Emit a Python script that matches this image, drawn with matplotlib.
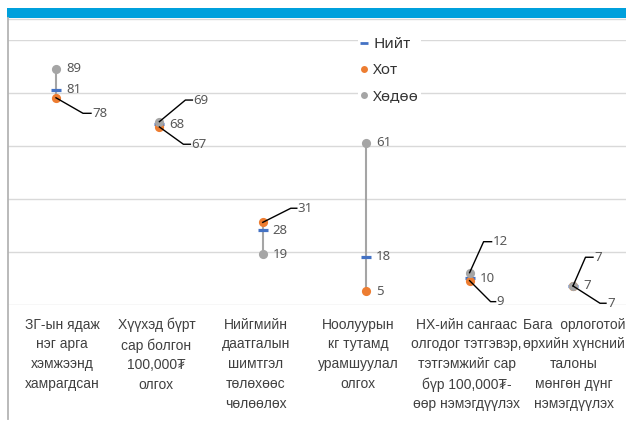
import matplotlib
matplotlib.use('Agg')
import matplotlib.pyplot as plt
import matplotlib.transforms as mtransforms
from matplotlib.lines import Line2D
from matplotlib.patches import Rectangle
from matplotlib import font_manager

# ---------------- data ----------------
categories = [
    "ЗГ-ын ядаж\nнэг арга\nхэмжээнд\nхамрагдсан",
    "Хүүхэд бүрт\nсар болгон\n100,000₮\nолгох",
    "Нийгмийн\nдаатгалын\nшимтгэл\nтөлөхөөс\nчөлөөлөх",
    "Ноолуурын\nкг тутамд\nурамшуулал\nолгох",
    "НХ-ийн сангаас\nолгодог тэтгэвэр,\nтэтгэмжийг сар\nбүр 100,000₮-\nөөр нэмэгдүүлэх",
    "Бага  орлоготой\nөрхийн хүнсний\nталоны\nмөнгөн дүнг\nнэмэгдүүлэх",
]
series_names = ["Нийт", "Хот", "Хөдөө"]
niit = [81, 68, 28, 18, 10, 7]
khot = [78, 67, 31, 5, 9, 7]
khudoo = [89, 69, 19, 61, 12, 7]
y_ticks = [0, 20, 40, 60, 80, 100]

# ---------------- style ----------------
avail = {f.name for f in font_manager.fontManager.ttflist}
def pick(*names):
    return [n for n in names if n in avail] + ['DejaVu Sans']

cat_font = pick('Liberation Sans Narrow', 'Liberation Sans')
num_font = pick('Noto Sans', 'Open Sans')

C_NIIT = '#4472C4'
C_KHOT = '#ED7D31'
C_KHUD = '#A5A5A5'
TXT = '#595959'

W, H = 626, 423
fig = plt.figure(figsize=(W / 100, H / 100), dpi=100)
fig.patch.set_facecolor('white')

# top blue band and frame lines
fig.add_artist(Rectangle((7 / W, 1 - 18 / H), 619 / W, 10 / H,
                         transform=fig.transFigure, color='#00A0DC', lw=0))
fig.add_artist(Line2D([8 / W, 1], [1 - 19 / H, 1 - 19 / H], transform=fig.transFigure,
                      color='#D9D9D9', lw=1))
fig.add_artist(Line2D([8 / W, 8 / W], [1 - 18 / H, 1 - 419 / H], transform=fig.transFigure,
                      color='#B4B4B4', lw=1.3))

ax = fig.add_axes([8 / W, (H - 304.5) / H, 618 / W, 265 / H])
unit = 103.4
xmin = -48 / unit
ax.set_xlim(xmin, xmin + 618 / unit)
ax.set_ylim(0, 100)
for s in ax.spines.values():
    s.set_visible(False)
ax.set_yticks(y_ticks)
ax.set_yticklabels([])
ax.yaxis.grid(True, color='#D9D9D9', lw=1)
ax.set_axisbelow(True)
ax.tick_params(length=0)
x = list(range(len(categories)))
ax.set_xticks(x)
ax.set_xticklabels(categories, fontsize=10, linespacing=1.52, color='#404040',
                   family=cat_font)
ax.tick_params(axis='x', pad=9.5)
# small horizontal nudges of the category texts (pixels)
label_nudge = [6, -3, -7, -8, -3, 1]
for lbl, dx in zip(ax.get_xticklabels(), label_nudge):
    lbl.set_transform(lbl.get_transform() +
                      mtransforms.ScaledTranslation(dx / 100, 0, fig.dpi_scale_trans))

# high-low lines
for i in x:
    vals = [niit[i], khot[i], khudoo[i]]
    ax.plot([i, i], [min(vals), max(vals)], color=C_KHUD, lw=1.5, zorder=2,
            solid_capstyle='butt')

ax.plot(x, niit, ls='none', marker='_', ms=7.5, mew=2.3, color=C_NIIT, zorder=3, clip_on=False)
ax.plot(x, khot, ls='none', marker='o', ms=6.6, mew=0, color=C_KHOT, zorder=4, clip_on=False)
ax.plot(x, khudoo, ls='none', marker='o', ms=6.6, mew=0, color=C_KHUD, zorder=5, clip_on=False)

# label placement (pixels, y downward): (elbow_dx, elbow_dy, label_dx, label_dy)
leaders = {
    (1, 0): (27, 15.5, 36, 15.5),
    (2, 1): (26, -21.6, 34, -21.6),
    (1, 1): (24, 17.3, 32, 17.3),
    (1, 2): (28, -14.1, 35, -14.1),
    (2, 4): (14, -31, 23, -31),
    (1, 4): (21, 21, 27, 21),
    (2, 5): (12.5, -28.7, 21, -28.7),
    (1, 5): (27, 17.3, 34, 17.3),
}
series_vals = [niit, khot, khudoo]
for si, vals in enumerate(series_vals):
    for ci, v in enumerate(vals):
        tr = fig.dpi_scale_trans + mtransforms.ScaledTranslation(ci, v, ax.transData)
        if (si, ci) in leaders:
            ex, ey, lx, ly = leaders[(si, ci)]
            ax.add_line(Line2D([0, ex / 100, (lx - 1) / 100], [0, -ey / 100, -ly / 100],
                               transform=tr, color='black', lw=1, zorder=6, clip_on=False))
        else:
            lx, ly = 10, 0
        ax.text(lx / 100, -ly / 100, str(v), transform=tr, ha='left', va='center',
                fontsize=9.5, color=TXT, family=num_font, zorder=7, clip_on=False)

# legend
handles = [
    Line2D([], [], ls='none', marker='_', ms=6, mew=2, color=C_NIIT),
    Line2D([], [], ls='none', marker='o', ms=5, mew=0, color=C_KHOT),
    Line2D([], [], ls='none', marker='o', ms=5, mew=0, color=C_KHUD),
]
leg = fig.legend(handles, series_names, loc='upper left',
                 bbox_to_anchor=(358 / W, 1 - 35 / H), borderaxespad=0,
                 frameon=True, fancybox=False, framealpha=1, edgecolor='none',
                 facecolor='white', handlelength=0.5, handletextpad=0.35,
                 labelspacing=0.72, borderpad=0.15,
                 prop={'family': num_font, 'size': 11})
for t in leg.get_texts():
    t.set_color('#333333')

fig.savefig('out.png', dpi=100)
